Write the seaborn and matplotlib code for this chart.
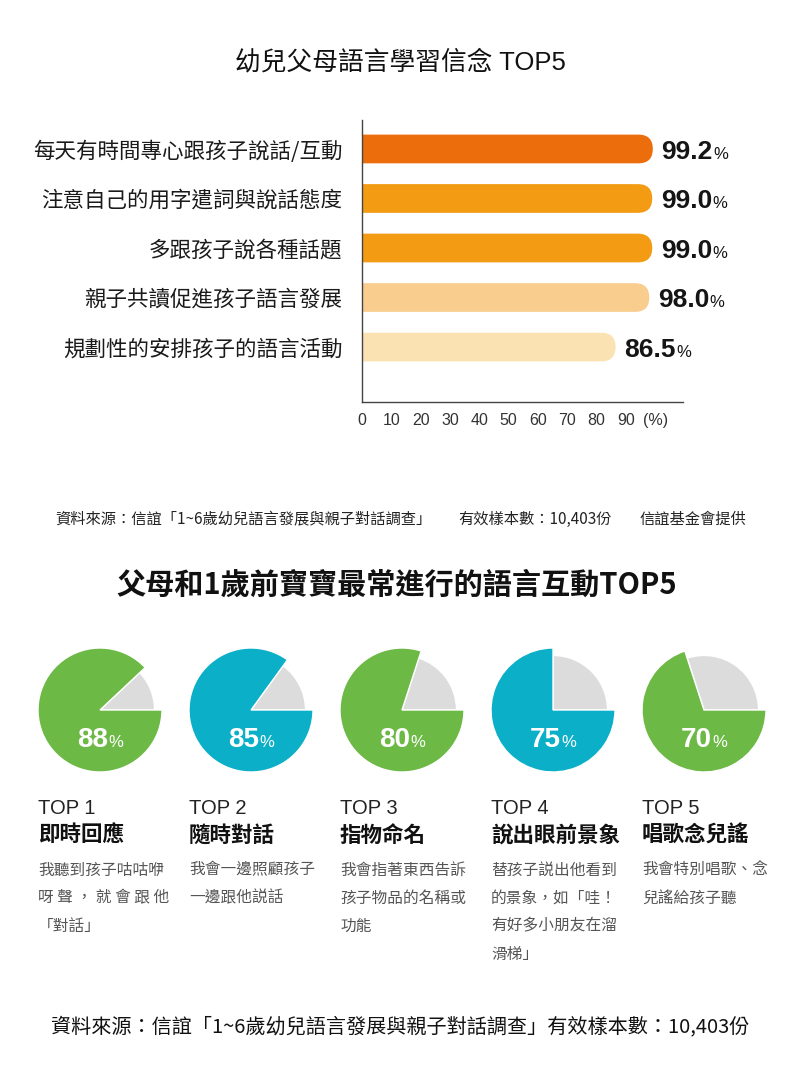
import numpy as np
import pandas as pd
import matplotlib
matplotlib.use("Agg")
import matplotlib.pyplot as plt
import seaborn as sns
from matplotlib.patches import FancyBboxPatch

# ---------------- data ----------------
bar_title = "幼兒父母語言學習信念 TOP5"
bar_labels = ["每天有時間專心跟孩子說話/互動", "注意自己的用字遣詞與說話態度",
              "多跟孩子說各種話題", "親子共讀促進孩子語言發展", "規劃性的安排孩子的語言活動"]
bar_values = [99.2, 99.0, 99.0, 98.0, 86.5]
bar_colors = ["#EC6D0B", "#F39B12", "#F39B12", "#F8CD8E", "#FBE2B2"]
x_ticks = [0, 10, 20, 30, 40, 50, 60, 70, 80, 90, 100]
x_tick_labels = ["0", "10", "20", "30", "40", "50", "60", "70", "80", "90", "(%)"]
source_1 = ["資料來源：信誼「1~6歲幼兒語言發展與親子對話調查」", "有效樣本數：10,403份", "信誼基金會提供"]

pie_title = "父母和1歲前寶寶最常進行的語言互動TOP5"
pie_values = [88, 85, 80, 75, 70]
pie_colors = ["#6DB945", "#0BAFC7", "#6DB945", "#0BAFC7", "#6DB945"]
pie_rest_color = "#DCDCDC"
pie_ranks = ["TOP 1", "TOP 2", "TOP 3", "TOP 4", "TOP 5"]
pie_names = ["即時回應", "隨時對話", "指物命名", "說出眼前景象", "唱歌念兒謠"]
pie_desc = [
    ["我聽到孩子咕咕咿", "呀 聲 ， 就 會 跟 他", "「對話」"],
    ["我會一邊照顧孩子", "一邊跟他説話"],
    ["我會指著東西告訴", "孩子物品的名稱或", "功能"],
    ["替孩子説出他看到", "的景象，如「哇！", "有好多小朋友在溜", "滑梯」"],
    ["我會特別唱歌、念", "兒謠給孩子聽"],
]
source_2 = "資料來源：信誼「1~6歲幼兒語言發展與親子對話調查」有效樣本數：10,403份"

# ---------------- style ----------------
sns.set_style("white")
plt.rcParams["font.family"] = ["Noto Sans CJK TC", "DejaVu Sans"]
LAT = ["Liberation Sans", "DejaVu Sans"]
MIX = ["Liberation Sans", "Noto Sans CJK TC", "DejaVu Sans"]

W, H = 800, 1067
fig = plt.figure(figsize=(W / 100, H / 100), dpi=100)
fig.patch.set_facecolor("white")


def fx(x):
    return x / W


def fy(y):
    return 1 - y / H


# ---------------- bar chart ----------------
fig.text(fx(400), fy(62), bar_title, ha="center", va="center", fontsize=18.5,
         weight="normal", color="#111111", family=MIX)

ax_l, ax_r, ax_t, ax_b = 362, 683, 120, 402
ax = fig.add_axes([fx(ax_l), fy(ax_b), (ax_r - ax_l) / W, (ax_b - ax_t) / H])
df = pd.DataFrame({"label": bar_labels, "value": bar_values})
sns.barplot(data=df, x="value", y="label", hue="label", palette=bar_colors,
            saturation=1, legend=False, width=0.58, orient="h", ax=ax)
xmax = 109.5
ymin, ymax = 5.11, -0.585
ax.set_xlim(0, xmax)
ax.set_ylim(ymin, ymax)

px_x = (ax_r - ax_l) / xmax
px_y = (ax_b - ax_t) / (ymin - ymax)
asp = px_x / px_y
for p in list(ax.patches):
    x0, y0, w, h = p.get_x(), p.get_y(), p.get_width(), p.get_height()
    col = p.get_facecolor()
    p.set_visible(False)
    rs = h / asp / 2
    fb = FancyBboxPatch((x0 - 10, y0), w + 10, h,
                        boxstyle=f"round,pad=0,rounding_size={rs}",
                        mutation_aspect=asp, facecolor=col, edgecolor="none",
                        zorder=1.5)
    ax.add_patch(fb)

for i, v in enumerate(bar_values):
    yb = i + 0.2
    t = ax.text(v + 3.0, yb, f"{v:.1f}", ha="left", va="baseline", fontsize=19,
                weight="bold", family=LAT, color="#151515", clip_on=False)
    ax.annotate("%", xy=(1, yb), xycoords=(t, "data"), xytext=(0.3, 0),
                textcoords="offset points", ha="left", va="baseline",
                fontsize=12, family=LAT, color="#151515", annotation_clip=False)

for s in ["top", "right"]:
    ax.spines[s].set_visible(False)
for s in ["left", "bottom"]:
    ax.spines[s].set_color("#444444")
    ax.spines[s].set_linewidth(1.0)
ax.set_xticks(x_ticks)
ax.set_xticklabels(x_tick_labels, family=LAT)
ax.tick_params(axis="x", direction="in", length=5, width=1, color="#444444",
               pad=8, labelsize=11.5, labelcolor="#333333")
ax.tick_params(axis="y", length=0, pad=14, labelsize=15.5, labelcolor="#1a1a1a")
ax.set_xlabel("")
ax.set_ylabel("")

# source line 1
fig.text(fx(55), fy(519), source_1[0], ha="left", va="center", fontsize=11, color="#222222")
fig.text(fx(458), fy(519), source_1[1], ha="left", va="center", fontsize=11, color="#222222")
fig.text(fx(640), fy(519), source_1[2], ha="left", va="center", fontsize=11, color="#222222")

# ---------------- pies ----------------
fig.text(fx(397), fy(585), pie_title, ha="center", va="center", fontsize=21,
         weight="bold", color="#111111")

R = 62
cy = 710
for i, (v, c) in enumerate(zip(pie_values, pie_colors)):
    cx = 100 + 151 * i
    pax = fig.add_axes([fx(cx - R), fy(cy + R), 2 * R / W, 2 * R / H])
    wedges, _ = pax.pie([100 - v, v], colors=[pie_rest_color, c], startangle=0,
                        counterclock=True, radius=1)
    wedges[0].set_radius(0.88)
    pax.set_xlim(-1, 1)
    pax.set_ylim(-1, 1)
    pax.set_aspect("equal")
    pax.axis("off")
    tb = -0.60
    t = pax.text(0.13, tb, f"{v}", ha="right", va="baseline", fontsize=20,
                 weight="bold", family=LAT, color="white")
    pax.annotate("%", xy=(1, tb), xycoords=(t, "data"), xytext=(0.3, 0),
                 textcoords="offset points", ha="left", va="baseline",
                 fontsize=12, family=LAT, color="white", annotation_clip=False)

    colx = 38 + 151 * i
    fig.text(fx(colx), fy(808), pie_ranks[i], ha="left", va="center", fontsize=14.5,
             family=LAT, color="#222222")
    fig.text(fx(colx), fy(835), pie_names[i], ha="left", va="center", fontsize=15.5,
             weight="bold", color="#111111")
    for k, line in enumerate(pie_desc[i]):
        fig.text(fx(colx), fy(870 + 28 * k), line, ha="left", va="center",
                 fontsize=11.3, color="#555555")

fig.text(fx(400), fy(1027), source_2, ha="center", va="center", fontsize=14.5,
         color="#111111")

fig.savefig("out.png", dpi=100, facecolor="white")
